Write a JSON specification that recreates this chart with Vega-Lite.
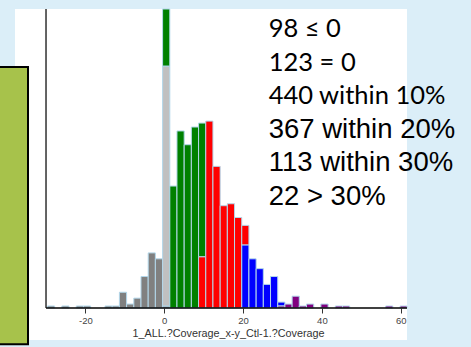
{
  "$schema": "https://vega.github.io/schema/vega-lite/v6.json",
  "width": 392,
  "height": 331,
  "autosize": {"type": "none"},
  "padding": {"left": 15, "top": 9, "right": 64, "bottom": 7},
  "background": "#dbeef8",
  "config": {
    "view": {"stroke": null, "fill": "#ffffff"},
    "axis": {"grid": false},
    "locale": {"number": {"decimal": ".", "thousands": ",", "grouping": [3], "currency": ["$", ""], "minus": "-"}}
  },
  "layer": [
    {
      "data": {"values": [{}]},
      "mark": {"type": "rect", "fill": "#a7c24b", "stroke": "#000000", "strokeWidth": 2, "clip": false},
      "encoding": {
        "x": {"datum": -42.18, "type": "quantitative"},
        "x2": {"datum": -34.57},
        "y": {"datum": 122.5, "type": "quantitative"},
        "y2": {"datum": -18.45}
      }
    },
    {
      "data": {
        "values": [
          {"lo": -29.64, "hi": -27.81, "cat": "≤ 0", "n": 1},
          {"lo": -25.98, "hi": -24.16, "cat": "≤ 0", "n": 1},
          {"lo": -22.33, "hi": -20.50, "cat": "≤ 0", "n": 1},
          {"lo": -20.50, "hi": -18.68, "cat": "≤ 0", "n": 1},
          {"lo": -15.03, "hi": -13.20, "cat": "≤ 0", "n": 1},
          {"lo": -13.20, "hi": -11.38, "cat": "≤ 0", "n": 1},
          {"lo": -11.38, "hi": -9.55, "cat": "≤ 0", "n": 8},
          {"lo": -9.55, "hi": -7.72, "cat": "≤ 0", "n": 2},
          {"lo": -7.72, "hi": -5.90, "cat": "≤ 0", "n": 5},
          {"lo": -5.90, "hi": -4.07, "cat": "≤ 0", "n": 16},
          {"lo": -4.07, "hi": -2.25, "cat": "≤ 0", "n": 28},
          {"lo": -2.25, "hi": -0.42, "cat": "≤ 0", "n": 25},
          {"lo": -0.42, "hi": 1.41, "cat": "≤ 0", "n": 1},
          {"lo": -0.42, "hi": 1.41, "cat": "= 0", "n": 122},
          {"lo": -0.42, "hi": 1.41, "cat": "within 10%", "n": 29},
          {"lo": 1.41, "hi": 3.23, "cat": "within 10%", "n": 62},
          {"lo": 3.23, "hi": 5.06, "cat": "within 10%", "n": 90},
          {"lo": 5.06, "hi": 6.88, "cat": "within 10%", "n": 83},
          {"lo": 6.88, "hi": 8.71, "cat": "within 10%", "n": 92},
          {"lo": 8.71, "hi": 10.54, "cat": "within 10%", "n": 68},
          {"lo": 8.71, "hi": 10.54, "cat": "within 20%", "n": 26},
          {"lo": 10.54, "hi": 12.36, "cat": "within 20%", "n": 95},
          {"lo": 12.36, "hi": 14.19, "cat": "within 20%", "n": 72},
          {"lo": 14.19, "hi": 16.01, "cat": "within 20%", "n": 52},
          {"lo": 16.01, "hi": 17.84, "cat": "within 20%", "n": 53},
          {"lo": 17.84, "hi": 19.67, "cat": "within 20%", "n": 46},
          {"lo": 19.67, "hi": 21.49, "cat": "within 20%", "n": 10},
          {"lo": 19.67, "hi": 21.49, "cat": "within 30%", "n": 32},
          {"lo": 21.49, "hi": 23.32, "cat": "within 30%", "n": 25},
          {"lo": 23.32, "hi": 25.14, "cat": "within 30%", "n": 20},
          {"lo": 25.14, "hi": 26.97, "cat": "within 30%", "n": 12},
          {"lo": 26.97, "hi": 28.80, "cat": "within 30%", "n": 16},
          {"lo": 28.80, "hi": 30.62, "cat": "within 30%", "n": 2},
          {"lo": 28.80, "hi": 30.62, "cat": "> 30%", "n": 1},
          {"lo": 30.62, "hi": 32.45, "cat": "> 30%", "n": 2},
          {"lo": 32.45, "hi": 34.27, "cat": "> 30%", "n": 6},
          {"lo": 34.27, "hi": 36.10, "cat": "> 30%", "n": 1},
          {"lo": 36.10, "hi": 37.93, "cat": "> 30%", "n": 2},
          {"lo": 39.75, "hi": 41.58, "cat": "> 30%", "n": 2},
          {"lo": 43.40, "hi": 45.23, "cat": "> 30%", "n": 1},
          {"lo": 45.23, "hi": 47.06, "cat": "> 30%", "n": 1},
          {"lo": 56.19, "hi": 58.01, "cat": "> 30%", "n": 1},
          {"lo": 59.84, "hi": 61.60, "cat": "> 30%", "n": 1}
        ]
      },
      "transform": [
        {"calculate": "indexof(['> 30%', 'within 30%', 'within 20%', '≤ 0', '= 0', 'within 10%'], datum.cat)", "as": "o"}
      ],
      "mark": {"type": "bar", "orient": "vertical", "stroke": "#b3d7ea", "strokeWidth": 1},
      "encoding": {
        "x": {
          "field": "lo",
          "type": "quantitative",
          "scale": {"domain": [-37.87, 61.6], "nice": false, "zero": false, "padding": 0},
          "title": "1_ALL.?Coverage_x-y_Ctl-1.?Coverage",
          "axis": {
            "orient": "bottom",
            "offset": -32,
            "domain": false,
            "values": [-20, 0, 20, 40, 60],
            "format": "d",
            "tickSize": 5,
            "tickColor": "#333333",
            "labelFontSize": 9.5,
            "labelColor": "#444444",
            "labelPadding": 2,
            "titleFont": "Liberation Sans",
            "titleFontSize": 10.8,
            "titleFontWeight": "normal",
            "titleColor": "#333333",
            "titlePadding": 3,
            "titleX": 213
          }
        },
        "x2": {"field": "hi"},
        "y": {
          "field": "n",
          "type": "quantitative",
          "stack": "zero",
          "scale": {"domain": [-16.27, 152], "nice": false, "zero": false},
          "title": null,
          "axis": {"domain": false, "ticks": false, "labels": false, "title": null}
        },
        "color": {
          "field": "cat",
          "type": "nominal",
          "scale": {
            "domain": ["≤ 0", "= 0", "within 10%", "within 20%", "within 30%", "> 30%"],
            "range": ["#808080", "#c0c0c0", "#008000", "#ff0000", "#0000ff", "#800080"]
          },
          "legend": null
        },
        "order": {"field": "o", "type": "quantitative"}
      }
    },
    {
      "data": {"values": [{}]},
      "mark": {"type": "rule", "color": "#000000", "strokeWidth": 1.3},
      "encoding": {
        "x": {"datum": -30, "type": "quantitative"},
        "x2": {"datum": 61.6},
        "y": {"datum": 0, "type": "quantitative"}
      }
    },
    {
      "data": {"values": [{}]},
      "mark": {"type": "rule", "color": "#111111", "strokeWidth": 1.3},
      "encoding": {
        "x": {"datum": -30, "type": "quantitative"},
        "y": {"datum": 0, "type": "quantitative"},
        "y2": {"datum": 152}
      }
    },
    {
      "data": {"values": [{}]},
      "mark": {"type": "text", "text": ["98 ≤ 0", "123 = 0", "440 within 10%"], "font": "Lato", "fontSize": 25.5, "lineHeight": 33.5, "align": "left", "baseline": "alphabetic", "color": "#000000", "clip": false},
      "encoding": {
        "x": {"datum": 26.5, "type": "quantitative"},
        "y": {"datum": 137.6, "type": "quantitative"}
      }
    },
    {
      "data": {"values": [{}]},
      "mark": {"type": "text", "text": ["367 within 20%", "113 within 30%", "22 > 30%"], "font": "Liberation Sans", "fontSize": 27.5, "lineHeight": 33.5, "align": "left", "baseline": "alphabetic", "color": "#000000", "clip": false},
      "encoding": {
        "x": {"datum": 26.5, "type": "quantitative"},
        "y": {"datum": 86.5, "type": "quantitative"}
      }
    }
  ]
}
